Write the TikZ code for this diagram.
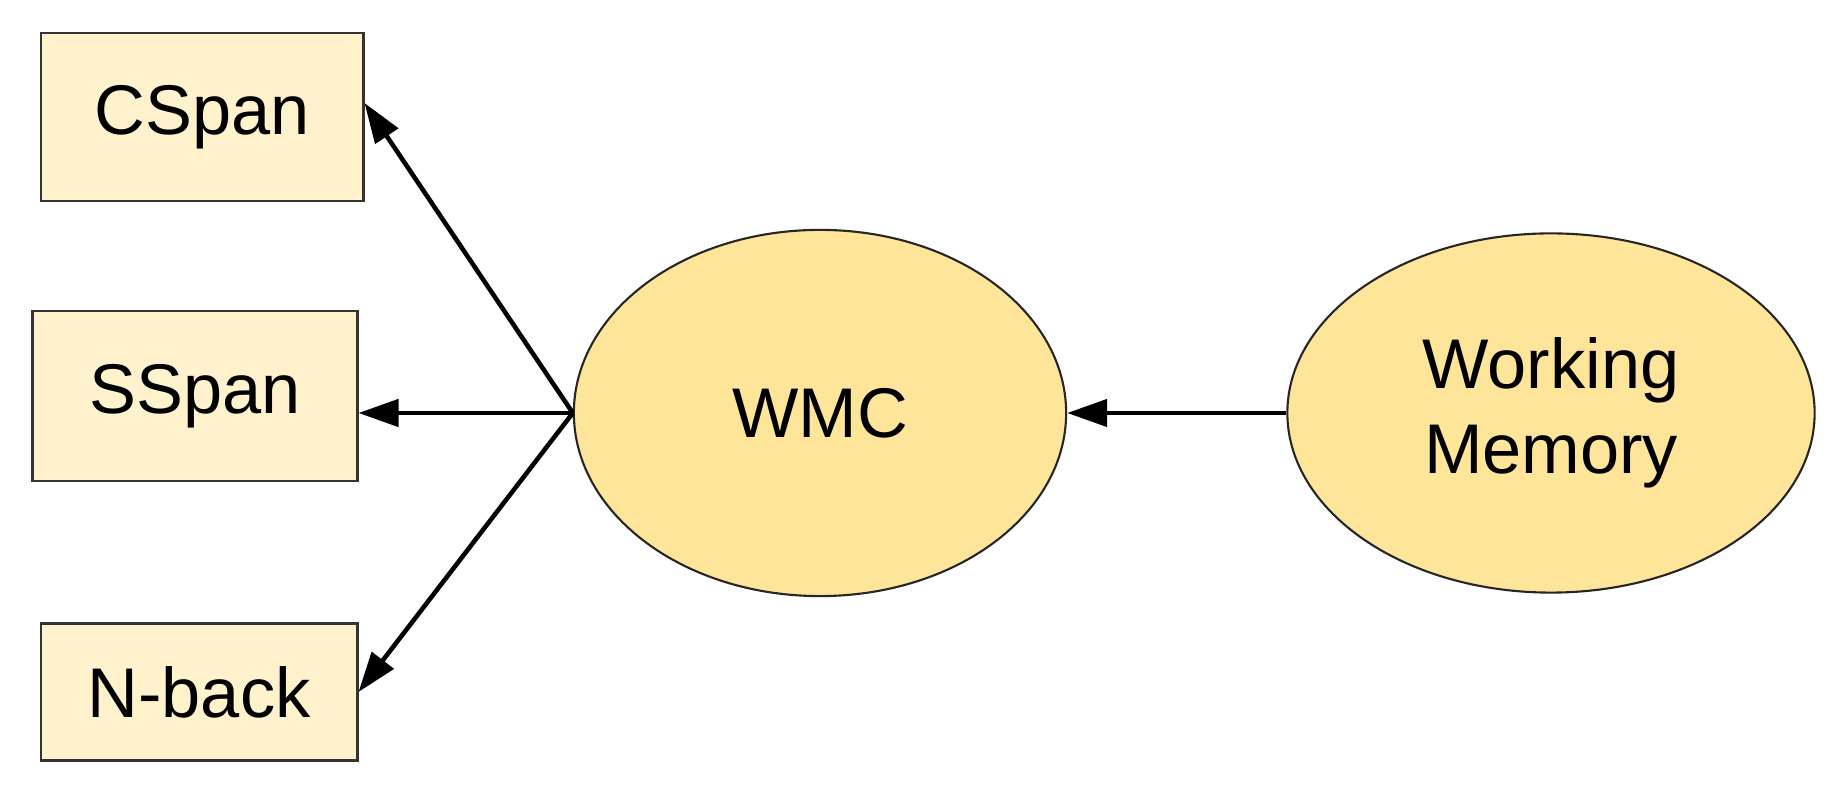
\documentclass[tikz,border=0pt]{standalone}
\usepackage{fontspec}
\setmainfont{Liberation Sans}
\usetikzlibrary{arrows.meta, shapes.geometric}
\definecolor{boxfill}{HTML}{FFF2CC}
\definecolor{ellfill}{HTML}{FFE599}
\begin{document}
\begin{tikzpicture}[x=0.01cm, y=-0.01cm,
		b/.style = {draw=black!80, line width=0.8pt, fill=boxfill, font=\fontsize{20}{24}\selectfont, inner sep=0pt},
		e/.style = {draw=black!85, line width=0.6pt, fill=ellfill, ellipse, font=\fontsize{20}{24}\selectfont, inner sep=0pt, align=center},
		a/.style = {-{Triangle[length=0.4cm, width=0.27cm]}, line width=1.3pt}]
	\useasboundingbox (0,0) rectangle (1836,789);
	\node[b, minimum width=3.22cm, minimum height=1.68cm] (cspan) at (202,117) {CSpan};
	\node[b, minimum width=3.24cm, minimum height=1.70cm] (sspan) at (195,396) {SSpan};
	\node[b, minimum width=3.16cm, minimum height=1.37cm] (nback) at (199,692) {N-back};
	\node[e, minimum width=4.92cm, minimum height=3.66cm] (wmc) at (820,413) {WMC};
	\node[e, minimum width=5.27cm, minimum height=3.59cm] (wm) at (1551,413) {Working\\Memory};
	
	\draw[a] (wmc.west) -- ([yshift=0.14cm]cspan.east);
	\draw[a] (wmc.west) -- (sspan.east |- wmc.west);
	\draw[a] (wmc.west) -- (nback.east);
	\draw[a] (wm.west) -- (wmc.east);
\end{tikzpicture}
\end{document}
